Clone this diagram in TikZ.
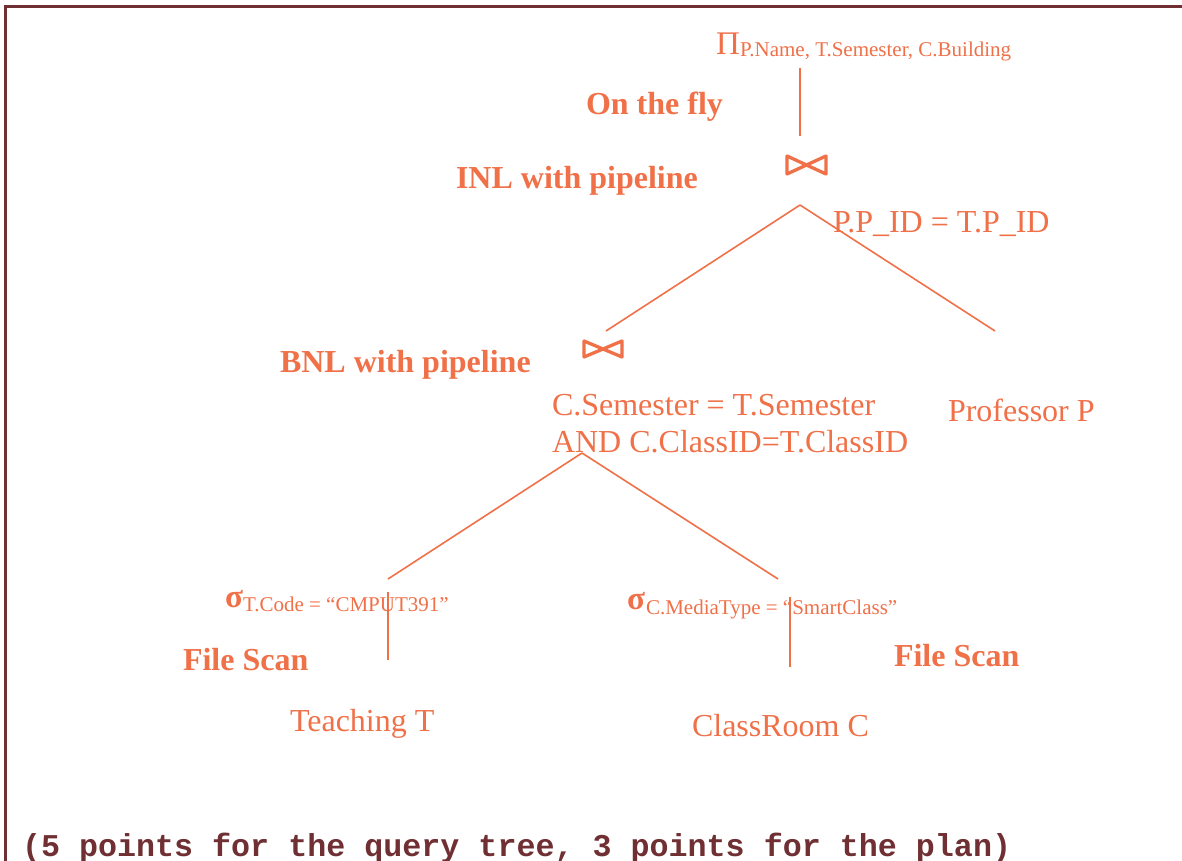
\documentclass[tikz,border=0pt]{standalone}
\usepackage{fontspec}
\setmainfont{Liberation Serif}
\newfontfamily\monob{Liberation Mono}
\begin{document}
\begin{tikzpicture}[x=1pt,y=-1pt,
  every node/.style={inner sep=0pt,outer sep=0pt,text=planor},
  big/.style={font=\fontsize{32}{38}\selectfont,anchor=base west},
  bigb/.style={font=\fontsize{32}{38}\selectfont\bfseries,anchor=base west},
  sub/.style={font=\fontsize{21}{25}\selectfont,anchor=base west},
  sig/.style={font=\fontsize{33}{38}\selectfont\bfseries,anchor=base west},
  edge/.style={draw=planor,line width=1.6pt},
  bowtie/.style={draw=planor,line width=3.3pt,line join=round}]
\definecolor{planor}{RGB}{240,112,72}
\definecolor{maroon}{RGB}{112,48,51}
\useasboundingbox (0,0) rectangle (1182,861);
\fill[white] (0,0) rectangle (1182,861);
\draw[maroon,line width=3pt] (5,861) -- (5,7) -- (1182,7);
% projection
\node[big,font=\fontsize{33}{38}\selectfont] (pi) at (716,55) {Π};
\node[sub] (pisub) at (740,57) {P.Name, T.Semester, C.Building};
\node[bigb] (fly) at (586,115) {On the fly};
% top join
\coordinate (j1top) at (800,68);
\coordinate (j1bot) at (800,136);
\draw[edge] (j1top) -- (j1bot);
\draw[bowtie] (787,156) -- (826,174) -- (826,156) -- (787,174) -- cycle;
\node[bigb] (inl) at (456,188) {INL with pipeline};
\node[big] (cond1) at (833,232) {P.P\_ID = T.P\_ID};
\coordinate (j1) at (800,205);
\coordinate (j2top) at (606,331);
\coordinate (prof) at (995,331);
\draw[edge] (j1) -- (j2top);
\draw[edge] (j1) -- (prof);
% second join
\draw[bowtie] (584,341) -- (622,357) -- (622,341) -- (584,357) -- cycle;
\node[bigb] (bnl) at (280,372) {BNL with pipeline};
\node[big] (cond2a) at (552,415) {C.Semester = T.Semester};
\node[big] (cond2b) at (552,452) {AND C.ClassID=T.ClassID};
\node[big] (profp) at (948,421) {Professor P};
\coordinate (j2) at (582,453);
\coordinate (s1top) at (388,579);
\coordinate (s2top) at (778,579);
\draw[edge] (j2) -- (s1top);
\draw[edge] (j2) -- (s2top);
% selections
\node[sig] (sig1) at (225,607) {σ};
\node[sub] (sig1sub) at (243,611) {T.Code = “CMPUT391”};
\node[sig] (sig2) at (627,609) {σ};
\node[sub] (sig2sub) at (646,614) {C.MediaType = “SmartClass”};
\coordinate (t1) at (388,592);
\coordinate (t2) at (388,660);
\coordinate (c1) at (790,597);
\coordinate (c2) at (790,667);
\draw[edge] (t1) -- (t2);
\draw[edge] (c1) -- (c2);
\node[bigb] (fs1) at (183,670) {File Scan};
\node[bigb] (fs2) at (894,666) {File Scan};
\node[big] (teach) at (290,731) {Teaching T};
\node[big] (room) at (692,736) {ClassRoom C};
\node[anchor=base west,text=maroon,font=\fontsize{31.7}{38}\selectfont\monob\bfseries] (note) at (22,856) {(5 points for the query tree, 3 points for the plan)};
\end{tikzpicture}
\end{document}
